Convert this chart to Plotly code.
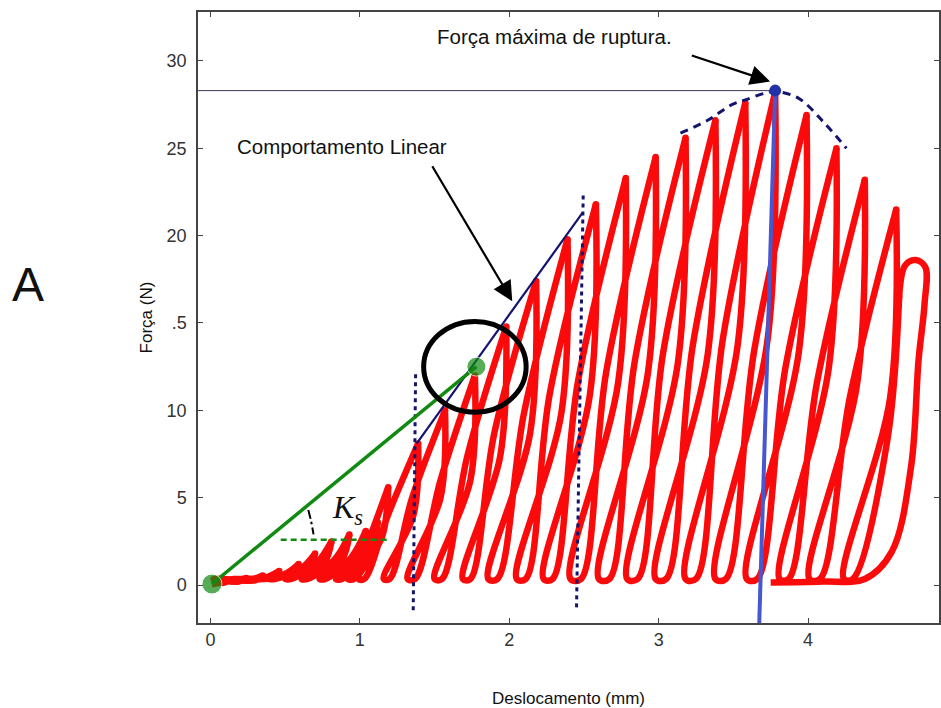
import plotly.graph_objects as go

# ---- cyclic force–displacement record (one entry per loading cycle) ----
peak_x = [0.12, 0.24, 0.35, 0.46, 0.59, 0.70, 0.81, 0.93, 1.04, 1.12, 1.19,
          1.39, 1.57, 1.77, 1.98, 2.18, 2.39, 2.58, 2.78, 2.98, 3.18, 3.38,
          3.58, 3.78, 3.99, 4.19, 4.38, 4.59, 4.61]
peak_f = [0.25, 0.40, 0.55, 0.80, 1.20, 1.80, 2.50, 2.90, 3.10, 3.60, 5.60,
          8.10, 10.0, 12.0, 14.8, 17.4, 19.8, 21.8, 23.3, 24.5, 25.6, 26.6,
          27.6, 28.2, 26.9, 25.0, 23.2, 21.5, 16.5]
# displacement at half the peak force on the loading branch
load_mid_x = [0.06, 0.15, 0.25, 0.36, 0.49, 0.60, 0.71, 0.83, 0.94, 1.02, 1.07,
              1.19, 1.35, 1.54, 1.72, 1.90, 2.10, 2.27, 2.46, 2.65, 2.84, 3.03,
              3.23, 3.43, 3.64, 3.85, 4.06, 4.28, 4.53]
# displacement at half the peak force on the unloading branch
unload_mid_x = [0.08, 0.19, 0.30, 0.41, 0.54, 0.65, 0.76, 0.88, 0.99, 1.07, 1.15,
                1.36, 1.54, 1.74, 1.94, 2.14, 2.35, 2.54, 2.73, 2.93, 3.13, 3.33,
                3.53, 3.73, 3.94, 4.14, 4.33, 4.55]
# where each unloading branch reaches the baseline, and where the next
# loading branch leaves it
unload_foot_x = [0.02, 0.05, 0.15, 0.26, 0.39, 0.50, 0.61, 0.73, 0.84, 0.92, 0.99,
                 1.16, 1.32, 1.50, 1.69, 1.86, 2.05, 2.23, 2.41, 2.60, 2.79, 2.98,
                 3.18, 3.38, 3.59, 3.81, 4.01, 4.24]
load_toe_x = [0.04, 0.09, 0.19, 0.30, 0.43, 0.54, 0.65, 0.77, 0.88, 0.96, 1.03,
              1.20, 1.37, 1.55, 1.74, 1.92, 2.11, 2.29, 2.48, 2.67, 2.86, 3.05,
              3.25, 3.45, 3.66, 3.87, 4.08, 4.30]
baseline_f = 0.35
start_x, start_f = 0.01, 0.05
# last cycle: rounded top, final unloading and return along the baseline
final_x = [4.61, 4.65, 4.72, 4.785, 4.78, 4.74, 4.69, 4.56, 4.38, 4.10, 3.75]
final_f = [16.5, 18.3, 18.6, 18.2, 16.1, 12.9, 6.8, 1.9, 0.35, 0.2, 0.15]

# ---- annotation geometry (data units) ----
ks_line_x = [0.01, 1.78]
ks_line_f = [0.06, 12.5]
linear_x = [1.38, 2.49]
linear_f = [8.1, 21.3]
guide1_x = [1.373, 1.357]
guide1_f = [12.06, -1.66]
guide2_x = [2.495, 2.45]
guide2_f = [22.3, -1.5]
ks_base_x = [0.47, 1.19]
ks_base_f = [2.6, 2.6]
angle_x = [0.655, 0.675, 0.69]
angle_f = [4.3, 3.6, 2.9]
max_x, max_f = 3.78, 28.3
rupture_x = [3.78, 3.673]
rupture_f = [28.3, -2.3]
envelope_x = [3.146, 3.334, 3.49, 3.58, 3.71, 3.78, 3.935, 4.11, 4.257]
envelope_f = [25.87, 26.63, 27.5, 27.77, 28.15, 28.25, 27.87, 26.44, 25.0]

RED = "rgb(250,10,10)"
NAVY = "#14146e"
GREEN = "#118a11"
LW = 6.5

fig = go.Figure()


def add_line(x, y, color, width, dash="solid", shape="linear"):
    fig.add_trace(go.Scatter(x=x, y=y, mode="lines", hoverinfo="skip",
                             line=dict(color=color, width=width, dash=dash, shape=shape)))


# first loading branch from rest
add_line([start_x, load_mid_x[0], peak_x[0]],
         [start_f, peak_f[0] / 2, peak_f[0]], RED, LW, shape="spline")
# unloading of each cycle followed by reloading of the next one
n = len(peak_x)
for i in range(n - 1):
    xs = [peak_x[i], unload_mid_x[i], unload_foot_x[i], load_toe_x[i],
          load_mid_x[i + 1], peak_x[i + 1]]
    fs = [peak_f[i], peak_f[i] / 2, baseline_f, baseline_f,
          peak_f[i + 1] / 2, peak_f[i + 1]]
    add_line(xs, fs, RED, LW, shape="spline")
add_line(final_x, final_f, RED, LW, shape="spline")
# round off the cusps at the peaks
fig.add_trace(go.Scatter(x=peak_x, y=peak_f, mode="markers", hoverinfo="skip",
                         marker=dict(color=RED, size=LW)))

# reference lines
add_line([-0.2, max_x], [max_f, max_f], "#3a3a5a", 1)
add_line(guide1_x, guide1_f, NAVY, 3, dash="4px,4px")
add_line(guide2_x, guide2_f, NAVY, 3, dash="4px,4px")
add_line(linear_x, linear_f, NAVY, 2.2)
add_line(envelope_x, envelope_f, NAVY, 3, dash="8px,6px", shape="spline")
add_line(rupture_x, rupture_f, "#4857cf", 4)
fig.add_trace(go.Scatter(x=[max_x], y=[max_f], mode="markers", hoverinfo="skip",
                         marker=dict(color="#2332a8", size=12)))

# secant stiffness Ks
add_line(ks_base_x, ks_base_f, GREEN, 2.5, dash="6px,4px")
add_line(angle_x, angle_f, "black", 2, dash="dashdot", shape="spline")
add_line(ks_line_x, ks_line_f, GREEN, 3.5)
fig.add_trace(go.Scatter(x=ks_line_x, y=ks_line_f, mode="markers", hoverinfo="skip",
                         marker=dict(color=GREEN, size=[20, 19])))

# highlight around the end of the secant
fig.add_shape(type="circle", xref="x", yref="y",
              x0=ks_line_x[1] - 0.353, x1=ks_line_x[1] + 0.333,
              y0=ks_line_f[1] - 2.61, y1=ks_line_f[1] + 2.59,
              line=dict(color="black", width=5))

TXT = dict(family="Liberation Sans, Arial, sans-serif", size=20.5, color="#111")
fig.add_annotation(x=0.164, y=25.09, xref="x", yref="y", text="Comportamento Linear",
                   showarrow=False, xanchor="left", yanchor="middle", font=TXT)
fig.add_annotation(x=1.50, y=31.37, xref="x", yref="y", text="Força máxima de ruptura.",
                   showarrow=False, xanchor="left", yanchor="middle", font=TXT)
fig.add_annotation(x=2.02, y=16.25, ax=1.479, ay=24.06, xref="x", yref="y",
                   axref="x", ayref="y", text="", showarrow=True,
                   arrowhead=2, arrowsize=1.8, arrowwidth=2.2, arrowcolor="black")
fig.add_annotation(x=3.746, y=28.82, ax=3.212, ay=30.34, xref="x", yref="y",
                   axref="x", ayref="y", text="", showarrow=True,
                   arrowhead=2, arrowsize=1.8, arrowwidth=2.2, arrowcolor="black")
fig.add_annotation(x=0.80, y=4.3, xref="x", yref="y",
                   text="<i>K</i><sub><i>s</i></sub>", showarrow=False,
                   xanchor="left", yanchor="middle",
                   font=dict(family="Liberation Serif, serif", size=32, color="#111"))
fig.add_annotation(x=-0.2288, y=0.554, xref="paper", yref="paper", text="A",
                   showarrow=False, xanchor="center", yanchor="middle",
                   font=dict(family="Liberation Sans, Arial, sans-serif", size=48, color="#111"))

x_ticks = [0, 1, 2, 3, 4]
y_ticks = [0, 5, 10, 15, 20, 25, 30]
y_tick_text = ["0", "5", "10", ".5", "20", "25", "30"]

axis_common = dict(showline=True, linecolor="#444", linewidth=1.5, mirror="allticks",
                   ticks="inside", ticklen=5, tickwidth=1, tickcolor="#444",
                   showgrid=False, zeroline=False,
                   tickfont=dict(family="Liberation Sans, Arial, sans-serif", size=18, color="#333"))

fig.update_layout(
    width=941, height=708,
    margin=dict(l=198, r=0, t=12, b=84),
    paper_bgcolor="white", plot_bgcolor="white",
    showlegend=False,
    xaxis=dict(range=[-0.0834, 4.8766], tickvals=x_ticks,
               title=dict(text="Deslocamento (mm)", standoff=46,
                          font=dict(family="Liberation Sans, Arial, sans-serif", size=17, color="#111")),
               ticklabelstandoff=0, **axis_common),
    yaxis=dict(range=[-2.171, 32.80], tickvals=y_ticks, ticktext=y_tick_text,
               title=dict(text="Força (N)", standoff=10,
                          font=dict(family="Liberation Sans, Arial, sans-serif", size=17, color="#111")),
               ticklabelstandoff=6, **axis_common),
)

fig.write_html("out.html")
